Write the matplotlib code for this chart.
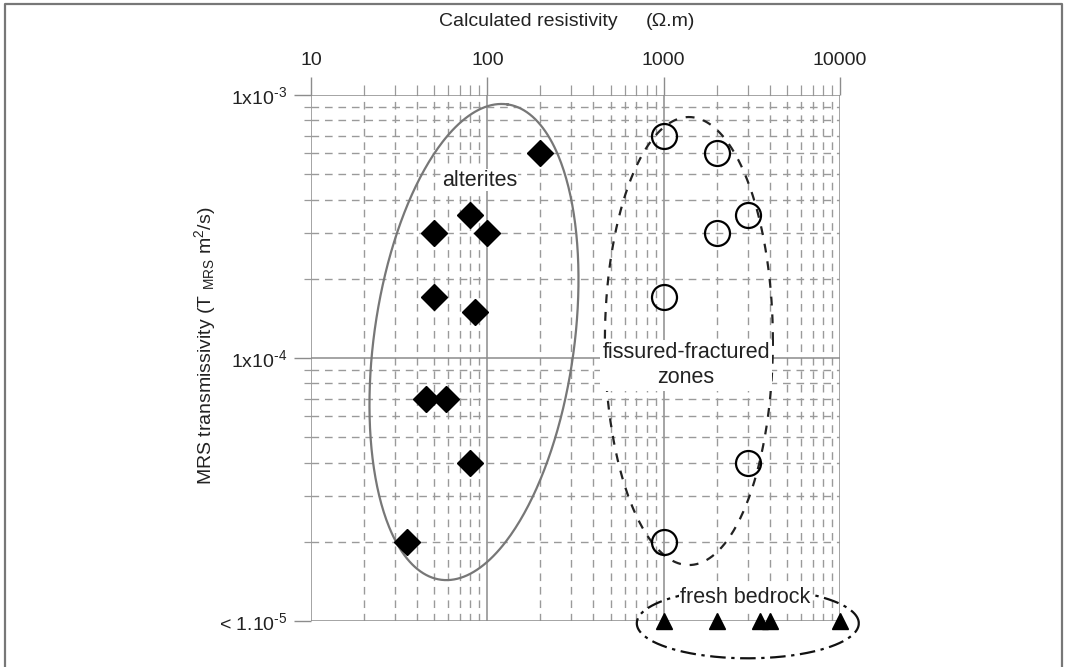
import numpy as np
import matplotlib
matplotlib.use('Agg')
import matplotlib.pyplot as plt
from matplotlib.lines import Line2D
from matplotlib.ticker import LogLocator, NullFormatter

plt.rcParams['font.family'] = ['Liberation Sans', 'DejaVu Sans']
plt.rcParams['mathtext.fontset'] = 'custom'
plt.rcParams['mathtext.rm'] = 'Liberation Sans'
plt.rcParams['mathtext.it'] = 'Liberation Sans:italic'

# DATA (resistivity in ohm.m, transmissivity in m2/s)
alterites_rho = [200, 80, 50, 100, 50, 85, 45, 58, 80, 35]
alterites_t = [6e-4, 3.5e-4, 3e-4, 3e-4, 1.7e-4, 1.5e-4, 7e-5, 7e-5, 4e-5, 2e-5]

fissured_rho = [1000, 2000, 3000, 2000, 1000, 3000, 1000]
fissured_t = [7e-4, 6e-4, 3.5e-4, 3e-4, 1.7e-4, 4e-5, 2e-5]

bedrock_rho = [1000, 2000, 3500, 4000, 10000]
bedrock_t = [1e-5, 1e-5, 1e-5, 1e-5, 1e-5]

x_ticks = [10, 100, 1000, 10000]
x_ticklabels = ['10', '100', '1000', '10000']
y_ticks = [1e-5, 1e-4, 1e-3]
y_ticklabels = ['< 1.10$^{\\mathregular{\u20105}}$', '1x10$^{\\mathregular{\u20104}}$', '1x10$^{\\mathregular{\u20103}}$']

grid_solid = '#8c8c8c'
grid_dash = '#9a9a9a'
txt = '#222222'

fig = plt.figure(figsize=(10.65, 6.67), dpi=100)
ax = fig.add_axes([311 / 1065, 46 / 667, 529 / 1065, 526 / 667])
ax.set_xscale('log')
ax.set_yscale('log')
ax.set_xlim(10, 10000)
ax.set_ylim(1e-5, 1e-3)

for s in ax.spines.values():
    s.set_visible(False)

ax.xaxis.tick_top()
ax.set_xticks(x_ticks)
ax.set_xticklabels(x_ticklabels)
ax.xaxis.set_minor_locator(LogLocator(base=10, subs=np.arange(2, 10)))
ax.xaxis.set_minor_formatter(NullFormatter())
ax.set_yticks(y_ticks)
ax.set_yticklabels(y_ticklabels)
ax.yaxis.set_minor_locator(LogLocator(base=10, subs=np.arange(2, 10)))
ax.yaxis.set_minor_formatter(NullFormatter())

ax.tick_params(axis='x', which='major', direction='out', length=13, width=1,
               color=grid_solid, pad=6, labelsize=14, labelcolor=txt)
ax.tick_params(axis='x', which='minor', direction='out', length=7, width=0.9, color=grid_dash)
ax.tick_params(axis='y', which='major', direction='out', length=12, width=1,
               color=grid_solid, pad=5, labelsize=14, labelcolor=txt)
ax.tick_params(axis='y', which='minor', direction='out', length=5, width=0.9, color=grid_dash)

ax.grid(True, which='major', color=grid_solid, lw=1.1, ls='-')
ax.grid(True, which='minor', color=grid_dash, lw=1.0, ls=(0, (5.5, 4.2)))
ax.set_axisbelow(True)

# points
ax.plot(alterites_rho, alterites_t, ls='none', marker='D', ms=13.5, mfc='black', mec='black', zorder=5)
ax.plot(fissured_rho, fissured_t, ls='none', marker='o', ms=18, mfc='none', mec='black', mew=1.6, zorder=5)
ax.plot(bedrock_rho, bedrock_t, ls='none', marker='^', ms=11.5, mfc='black', mec='black', zorder=5, clip_on=False)


def draw_ellipse(xc, yc, a_px, b_px, angle, **kw):
    # ellipse drawn in screen pixels then mapped back to data coords
    t = np.linspace(0, 2 * np.pi, 400)
    c = ax.transData.transform((xc, yc))
    th = np.deg2rad(angle)
    px = c[0] + a_px * np.cos(t) * np.cos(th) - b_px * np.sin(t) * np.sin(th)
    py = c[1] + a_px * np.cos(t) * np.sin(th) + b_px * np.sin(t) * np.cos(th)
    d = ax.transData.inverted().transform(np.column_stack([px, py]))
    ax.plot(d[:, 0], d[:, 1], clip_on=False, **kw)


draw_ellipse(84, 1.15e-4, 240, 100, 82, color='#777777', lw=1.6, zorder=4)
draw_ellipse(1390, 1.16e-4, 84, 224, 0, color='#222222', lw=1.6, ls=(0, (4, 4)), zorder=4)
draw_ellipse(3000, 0.98e-5, 111, 35, 0, color='#111111', lw=1.6, ls=(0, (7, 2.5, 1.5, 2.5)), zorder=4)

# labels
ax.text(90, 4.75e-4, 'alterites', ha='center', va='center', fontsize=15.5, color=txt, zorder=6,
        bbox=dict(facecolor='white', edgecolor='none', pad=0.5))
ax.text(1340, 9.4e-5, 'fissured-fractured\nzones', ha='center', va='center', fontsize=15.5,
        color=txt, linespacing=1.3, zorder=6,
        bbox=dict(facecolor='white', edgecolor='none', pad=1.5))
ax.text(2915, 1.23e-5, 'fresh bedrock', ha='center', va='center', fontsize=15.5, color=txt, zorder=6,
        bbox=dict(facecolor='white', edgecolor='none', pad=1))

fig.text(528 / 1065, 1 - 22 / 667, 'Calculated resistivity', ha='center', va='center', fontsize=14, color=txt)
fig.text(670 / 1065, 1 - 22 / 667, '(\u03a9.m)', ha='center', va='center', fontsize=14, color=txt)
fig.text(205 / 1065, 1 - 346 / 667, r'MRS transmissivity (T $_{\mathregular{MRS}}$ m$^{\mathregular{2}}$/s)',
         rotation=90, ha='center', va='center', fontsize=14, color=txt)

# frame around the figure (no bottom edge)
fig.add_artist(Line2D([5 / 1065, 5 / 1065, 1062 / 1065, 1062 / 1065], [0, 1 - 4 / 667, 1 - 4 / 667, 0],
                      transform=fig.transFigure, color='#777777', lw=1.6))

fig.savefig('out.png', dpi=100)
